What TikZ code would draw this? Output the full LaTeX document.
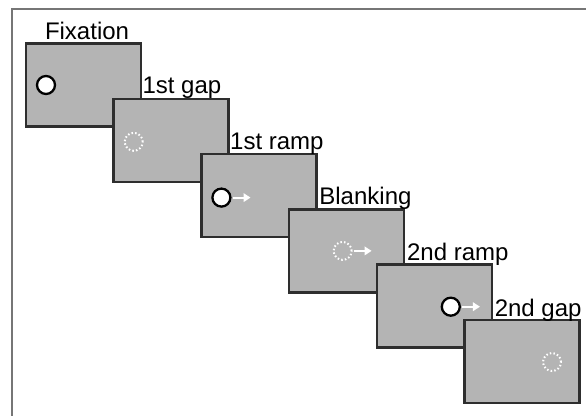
\documentclass[tikz,border=0pt]{standalone}
\usepackage{fontspec}
\setmainfont{Liberation Sans}
\usetikzlibrary{arrows.meta,calc}
\definecolor{boxgray}{HTML}{B4B4B4}
\definecolor{boxline}{HTML}{2E2E2E}
\definecolor{framegray}{HTML}{767676}
\tikzset{
  screen/.style={draw=boxline, fill=boxgray, line width=2.6pt, minimum width=115pt, minimum height=83pt, inner sep=0pt, outer sep=0pt},
  lab/.style={inner sep=0pt, outer sep=0pt, anchor=base west, font=\fontsize{24}{28}\selectfont},
  target/.style={circle, draw=black, fill=white, line width=2.3pt, minimum size=18pt, inner sep=0pt},
  ghost/.style={circle, draw=white, line width=2pt, dash pattern=on 1.5pt off 2.2pt, minimum size=18pt, inner sep=0pt},
  motion/.style={draw=white, line width=2.2pt, -{Triangle[length=7pt,width=8.5pt]}}
}
\begin{document}
\begin{tikzpicture}[x=1pt,y=-1pt]
\useasboundingbox (0,0) rectangle (586,415);
\draw[framegray, line width=2pt] (590,8.5) -- (11.5,8.5) -- (11.5,420);
% screens
\foreach \i in {1,...,6} {
  \node[screen] (b\i) at ({83.5+87.7*(\i-1)}, {85+55.3*(\i-1)}) {};
}
% stimuli
\node[target] (t1) at ($(b1.center)+(-37.5,0)$) {};
\node[ghost]  (t2) at ($(b2.center)+(-37.5,1.5)$) {};
\node[target] (t3) at ($(b3.center)+(-37.5,2)$) {};
\coordinate (a3) at ($(t3.east)+(19,0)$);
\draw[motion] ($(t3.east)+(1.5,0)$) -- (a3);
\node[ghost]  (t4) at ($(b4.center)+(-4,0)$) {};
\coordinate (a4) at ($(t4.east)+(19,0)$);
\draw[motion] ($(t4.east)+(1.5,0)$) -- (a4);
\node[target] (t5) at ($(b5.center)+(16.5,0.5)$) {};
\coordinate (a5) at ($(t5.east)+(19,0)$);
\draw[motion] ($(t5.east)+(1.5,0)$) -- (a5);
\node[ghost]  (t6) at ($(b6.center)+(30,0.5)$) {};
% labels
\node[lab] (l1) at (45,39) {Fixation};
\node[lab] (l2) at ($(b1.east |- b2.north)+(1.5,-5)$) {1st gap};
\node[lab] (l3) at ($(b2.east |- b3.north)+(1.5,-5)$) {1st ramp};
\node[lab] (l4) at ($(b3.east |- b4.north)+(3,-4.5)$) {Blanking};
\node[lab] (l5) at ($(b4.east |- b5.north)+(3,-4.5)$) {2nd ramp};
\node[lab] (l6) at ($(b5.east |- b6.north)+(3,-4)$) {2nd gap};
\end{tikzpicture}
\end{document}
